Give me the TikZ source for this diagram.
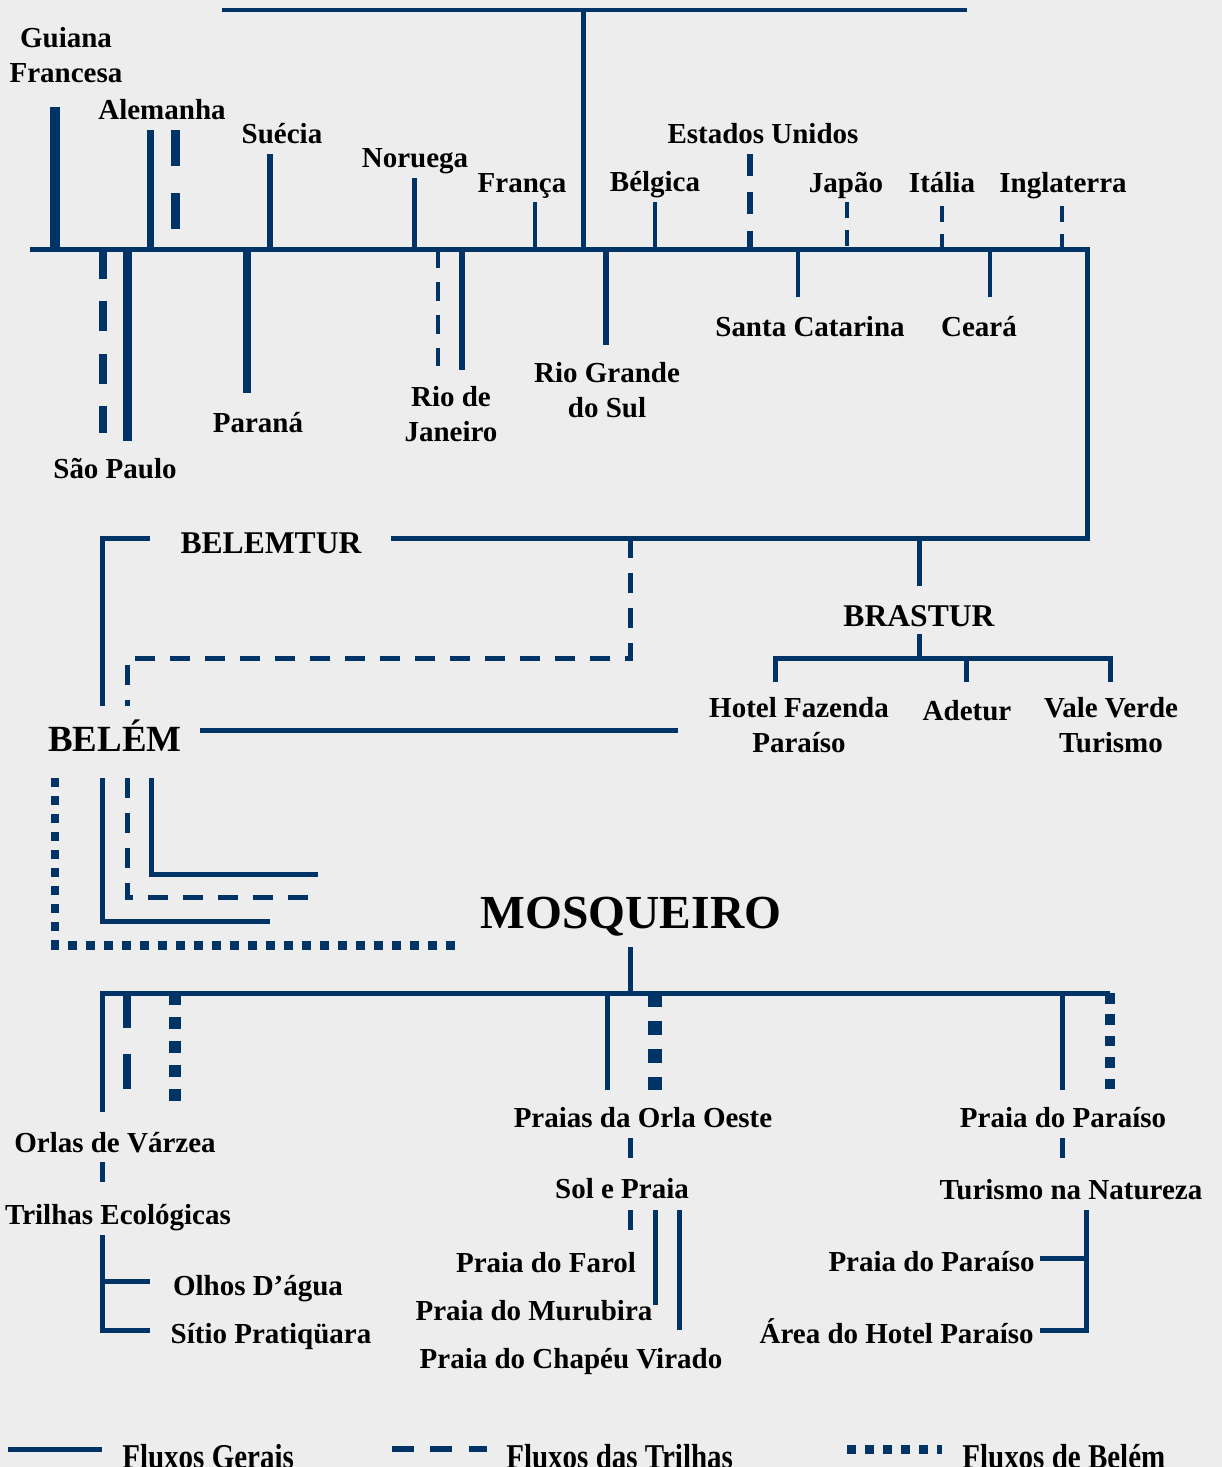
\documentclass[tikz,border=0pt]{standalone}
\usepackage{fontspec}
\usepackage{graphicx}
\setmainfont{Liberation Serif}

\definecolor{azul}{RGB}{0,51,102}
\definecolor{fundo}{RGB}{237,237,237}

\tikzset{
    geral/.style={draw=azul, line width=#1*0.569pt},
    geral/.default=5,
    trilha/.style={draw=azul, line width=#1*0.569pt,
        dash pattern=on #1*2.276pt off #1*1.707pt},
    trilha/.default=5,
    belem/.style={draw=azul, line width=#1*0.569pt,
        dash pattern=on #1*0.569pt off #1*0.569pt},
    belem/.default=9,
    rot/.style={font=\bfseries\fontsize{16.5}{19.4}\selectfont,
        align=center, inner sep=0pt, anchor=base},
    titulo/.style={rot, font=\bfseries\fontsize{#1}{#1}\selectfont}
}

\begin{document}
\begin{tikzpicture}[x=0.02cm, y=-0.02cm]

    \fill[fundo] (0,0) rectangle (1222,1467);
    \useasboundingbox (0,0) rectangle (1222,1467);

    % eixo dos paises e estados
    \coordinate (topoE) at (222,10);
    \coordinate (topoD) at (967,10);
    \coordinate (topoM) at (583,10);
    \coordinate (eixo) at (30,249);
    \coordinate (eixoD) at (1087,249);
    \coordinate (btD) at (391,538);

    \draw[geral] (topoE) -- (topoD);
    \draw[geral] (topoM) -- (topoM |- eixo);
    \draw[geral] (eixo) -- (eixoD) |- (btD);

    \node[rot] (gf) at (66,82) {Guiana\\Francesa};
    \node[rot] (al) at (162,119) {Alemanha};
    \node[rot] (su) at (282,143) {Suécia};
    \node[rot] (no) at (415,167) {Noruega};
    \node[rot] (fr) at (522,192) {França};
    \node[rot] (be) at (655,191) {Bélgica};
    \node[rot] (eu) at (763,143) {Estados Unidos};
    \node[rot] (ja) at (846,192) {Japão};
    \node[rot] (it) at (942,192) {Itália};
    \node[rot] (in) at (1063,192) {Inglaterra};
    \node[rot] (sp) at (115,478) {São Paulo};
    \node[rot] (pr) at (258,432) {Paraná};
    \node[rot] (rj) at (451,441) {Rio de\\Janeiro};
    \node[rot] (rs) at (607,417) {Rio Grande\\do Sul};
    \node[rot] (sc) at (810,336) {Santa Catarina};
    \node[rot] (ce) at (979,336) {Ceará};

    \coordinate (gf-p) at (55,107);
    \coordinate (al-p) at (150,130);
    \coordinate (al-t) at (175,130);
    \coordinate (su-p) at (270,154);
    \coordinate (no-p) at (414,178);
    \coordinate (fr-p) at (535,202);
    \coordinate (be-p) at (655,202);
    \coordinate (eu-t) at (750,154);
    \coordinate (ja-t) at (847,202);
    \coordinate (it-t) at (942,206);
    \coordinate (in-t) at (1062,206);
    \coordinate (sp-t) at (103,433);
    \coordinate (sp-p) at (127,441);
    \coordinate (pr-p) at (247,393);
    \coordinate (rj-t) at (438,366);
    \coordinate (rj-p) at (462,370);
    \coordinate (rs-p) at (606,345);
    \coordinate (sc-p) at (798,297);
    \coordinate (ce-p) at (990,297);

    \draw[geral=10] (gf-p) -- (gf-p |- eixo);
    \draw[geral=7] (al-p) -- (al-p |- eixo);
    \draw[trilha=9] (al-t) -- (al-t |- eixo);
    \draw[geral=6] (su-p) -- (su-p |- eixo);
    \draw[geral=5] (no-p) -- (no-p |- eixo);
    \draw[geral=4] (fr-p) -- (fr-p |- eixo);
    \draw[geral=4] (be-p) -- (be-p |- eixo);
    \draw[trilha=5.5] (eu-t) -- (eu-t |- eixo);
    \draw[trilha=4] (ja-t) -- (ja-t |- eixo);
    \draw[trilha=4] (it-t) -- (it-t |- eixo);
    \draw[trilha=4] (in-t) -- (in-t |- eixo);
    \draw[trilha=7.5] (sp-t |- eixo) -- (sp-t);
    \draw[geral=9] (sp-p |- eixo) -- (sp-p);
    \draw[geral=7.5] (pr-p |- eixo) -- (pr-p);
    \draw[trilha=4.7] (rj-t |- eixo) -- (rj-t);
    \draw[geral=6] (rj-p |- eixo) -- (rj-p);
    \draw[geral=6.5] (rs-p |- eixo) -- (rs-p);
    \draw[geral=4] (sc-p |- eixo) -- (sc-p);
    \draw[geral=4] (ce-p |- eixo) -- (ce-p);

    % belemtur e brastur
    \node[titulo=18] (belemtur) at (271,553) {BELEMTUR};
    \coordinate (btE) at (150,538);
    \coordinate (bl-g) at (102,706);
    \draw[geral] (btE) -| (bl-g);
    \coordinate (bt-t) at (630,538);
    \coordinate (dobra) at (630,658);
    \coordinate (bl-t) at (127,706);
    \draw[trilha] (bt-t) -- (dobra) -| (bl-t);

    \node[titulo=18] (brastur) at (919,626) {BRASTUR};
    \coordinate (bs-a) at (919,538);
    \coordinate (bs-b) at (919,586);
    \coordinate (bs-c) at (919,634);
    \coordinate (bs-d) at (919,658);
    \coordinate (hf-p) at (775,682);
    \coordinate (ad-p) at (966,682);
    \coordinate (vv-p) at (1110,682);
    \draw[geral] (bs-a) -- (bs-b);
    \draw[geral] (bs-c) -- (bs-d);
    \draw[geral] (hf-p) |- (vv-p |- bs-d) -- (vv-p);
    \draw[geral] (ad-p) -- (ad-p |- bs-d);

    \node[rot] (hf) at (799,752) {Hotel Fazenda\\Paraíso};
    \node[rot] (ad) at (967,720) {Adetur};
    \node[rot] (vv) at (1111,752) {Vale Verde\\Turismo};

    % belem
    \node[titulo=21] (belem) at (115,751) {BELÉM};
    \coordinate (bl-a) at (200,730);
    \coordinate (bl-b) at (678,730);
    \draw[geral] (bl-a) -- (bl-b);

    \coordinate (bl-1) at (55,778);
    \coordinate (bl-2) at (102,778);
    \coordinate (bl-3) at (127,778);
    \coordinate (bl-4) at (151,778);
    \coordinate (mq-1) at (457,945);
    \coordinate (mq-2) at (270,921);
    \coordinate (mq-3) at (318,897);
    \coordinate (mq-4) at (318,874);
    \draw[belem=9] (bl-1) |- (mq-1);
    \draw[geral] (bl-2) |- (mq-2);
    \draw[trilha] (bl-3) |- (mq-3);
    \draw[geral] (bl-4) |- (mq-4);

    % mosqueiro
    \node[titulo=27] (mosq) at (631,928) {MOSQUEIRO};
    \coordinate (mq-a) at (630,947);
    \coordinate (mq-b) at (630,993);
    \coordinate (mqD) at (1110,993);
    \coordinate (ov-p) at (102,1112);
    \draw[geral] (mq-a) -- (mq-b);
    \draw[geral] (ov-p) |- (mqD);

    \coordinate (ov-t) at (127,1089);
    \coordinate (ov-b) at (175,1102);
    \coordinate (po-p) at (607,1090);
    \coordinate (po-b) at (655,1090);
    \coordinate (pp-p) at (1062,1090);
    \coordinate (pp-b) at (1110,1090);
    \draw[trilha=8.7] (ov-t |- mqD) -- (ov-t);
    \draw[belem=12] (ov-b |- mqD) -- (ov-b);
    \draw[geral] (po-p |- mqD) -- (po-p);
    \draw[belem=14] (po-b |- mqD) -- (po-b);
    \draw[geral] (pp-p |- mqD) -- (pp-p);
    \draw[belem=10.7] (mqD) -- (pp-b);

    \node[rot] (ov) at (115,1152) {Orlas de Várzea};
    \node[rot] (te) at (118,1224) {Trilhas Ecológicas};
    \node[rot] (od) at (258,1295) {Olhos D’água};
    \node[rot] (si) at (271,1343) {Sítio Pratiqüara};
    \node[rot] (po) at (643,1127) {Praias da Orla Oeste};
    \node[rot] (sol) at (622,1198) {Sol e Praia};
    \node[rot] (fa) at (546,1272) {Praia do Farol};
    \node[rot] (mu) at (534,1320) {Praia do Murubira};
    \node[rot] (ch) at (571,1368) {Praia do Chapéu Virado};
    \node[rot] (pp) at (1063,1127) {Praia do Paraíso};
    \node[rot] (tn) at (1071,1199) {Turismo na Natureza};
    \node[rot, anchor=base east] (pp2) at (1035,1271) {Praia do Paraíso};
    \node[rot, anchor=base east] (ah) at (1034,1343) {Área do Hotel Paraíso};

    \coordinate (ov-s) at (102,1162);
    \coordinate (te-n) at (102,1186);
    \draw[trilha] (ov-s) -- (te-n);
    \coordinate (te-s) at (102,1235);
    \coordinate (si-w) at (150,1330);
    \coordinate (od-w) at (150,1281);
    \draw[geral] (te-s) |- (si-w);
    \draw[geral] (od-w) -- (od-w -| te-s);

    \coordinate (po-s) at (630,1138);
    \coordinate (sol-n) at (630,1162);
    \coordinate (sol-s) at (630,1210);
    \coordinate (fa-n) at (630,1234);
    \coordinate (mu-p) at (655,1305);
    \coordinate (ch-p) at (679,1330);
    \draw[trilha] (po-s) -- (sol-n);
    \draw[trilha] (sol-s) -- (fa-n);
    \draw[geral] (mu-p |- sol-s) -- (mu-p);
    \draw[geral] (ch-p |- sol-s) -- (ch-p);

    \coordinate (pp-s) at (1062,1138);
    \coordinate (tn-n) at (1062,1162);
    \coordinate (tn-s) at (1086,1210);
    \coordinate (pp2-e) at (1040,1258);
    \coordinate (ah-e) at (1040,1330);
    \draw[trilha] (pp-s) -- (tn-n);
    \draw[geral] (tn-s) |- (ah-e);
    \draw[geral] (pp2-e) -- (pp2-e -| tn-s);

    % legenda
    \coordinate (lg1-a) at (8,1449);
    \coordinate (lg1-b) at (102,1449);
    \coordinate (lg2-a) at (392,1449);
    \coordinate (lg2-b) at (487,1449);
    \coordinate (lg3-a) at (847,1449);
    \coordinate (lg3-b) at (942,1449);
    \draw[geral] (lg1-a) -- (lg1-b);
    \draw[trilha=5.5] (lg2-a) -- (lg2-b);
    \draw[belem=9] (lg3-a) -- (lg3-b);
    \node[rot, anchor=base west] (lg1) at (122,1468) {\scalebox{1}[1.2]{Fluxos Gerais}};
    \node[rot, anchor=base west] (lg2) at (506,1468) {\scalebox{1}[1.2]{Fluxos das Trilhas}};
    \node[rot, anchor=base west] (lg3) at (962,1468) {\scalebox{1}[1.2]{Fluxos de Belém}};

\end{tikzpicture}
\end{document}
